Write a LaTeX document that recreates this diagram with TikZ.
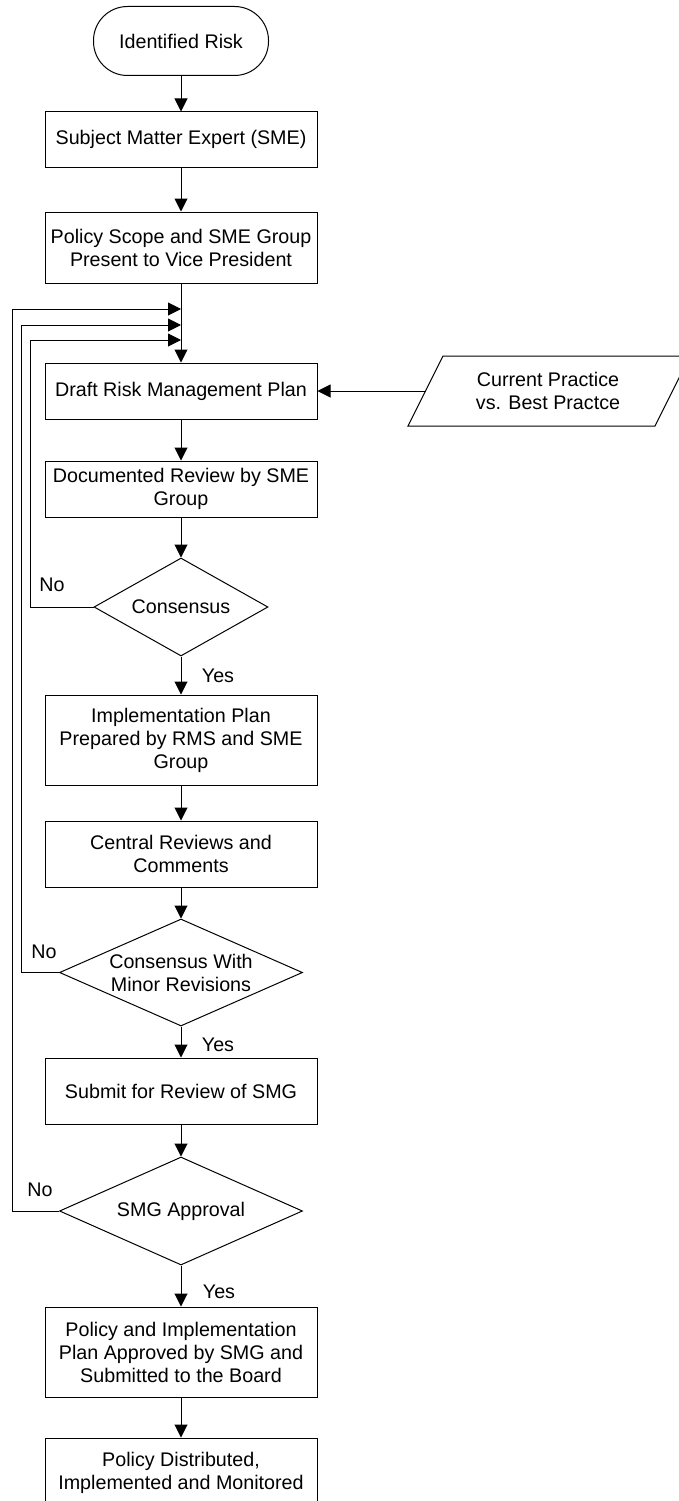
\documentclass[tikz,border=0pt]{standalone}
\usepackage{fontspec}
\setmainfont{Liberation Sans}
\usetikzlibrary{arrows.meta,shapes.geometric}
\begin{document}
\begin{tikzpicture}[x=1pt,y=-1pt,
  every node/.style={font=\fontsize{19.7}{23}\selectfont},
  box/.style={draw, line width=1pt, rectangle, minimum width=272pt, align=center, inner sep=0pt},
  term/.style={draw, line width=1pt, rectangle, rounded corners=34pt, minimum width=175pt, minimum height=69pt},
  dia/.style={draw, line width=1pt, diamond, inner sep=0pt},
  outline/.style={draw, line width=1pt, line join=miter},
  flow/.style={line width=1pt, -{Triangle[length=13pt,width=13pt]}},
  tag/.style={inner sep=0pt, align=center}
]
\useasboundingbox (0,0) rectangle (679,1501);

% main column
\node[term] (start) at (181,41) {Identified Risk};
\node[box, minimum height=55pt] (sme) at (181,139.5) {Subject Matter Expert (SME)};
\node[box, minimum height=71pt] (scope) at (181,247.5) {Policy Scope and SME Group\\Present to Vice President};
\node[box, minimum height=56pt] (draft) at (181,391) {Draft Risk Management Plan};
\node[box, minimum height=56pt] (review) at (181,489) {Documented Review by SME\\Group};
\node[dia, minimum width=174pt, minimum height=98pt] (cons) at (181,607) {};
\node[tag] (consT) at (cons) {Consensus};
\node[box, minimum height=90pt] (impl) at (181,740) {Implementation Plan\\Prepared by RMS and SME\\Group};
\node[box, minimum height=66pt] (central) at (181,854) {Central Reviews and\\Comments};
\node[dia, minimum width=243pt, minimum height=107pt] (minor) at (181,972.5) {};
\node[tag] (minorT) at (minor) {Consensus With\\Minor Revisions};
\node[box, minimum height=66pt] (submit) at (181,1091) {Submit for Review of SMG};
\node[dia, minimum width=243pt, minimum height=108pt] (smg) at (181,1211) {};
\node[tag] (smgT) at (smg) {SMG Approval};
\node[box, minimum height=90pt] (approved) at (181,1352) {Policy and Implementation\\Plan Approved by SMG and\\Submitted to the Board};
\node[box, minimum height=70pt] (final) at (181,1473) {Policy Distributed,\\Implemented and Monitored};

% input from the side: a slanted data shape running off the right edge
\draw[outline] (443,356) -- (690,356) -- (655,426) -- (408,426) -- cycle;
\node[tag] (practice) at (548,391) {Current Practice\\vs. Best Practce};
\coordinate (practiceIn) at (425.5,391);

% merge points for the return loops
\coordinate (m1) at (181,309);
\coordinate (m2) at (181,325);
\coordinate (m3) at (181,340);

% forward flow
\draw[flow] (start) -- (sme);
\draw[flow] (sme) -- (scope);
\draw[flow] (scope) -- (draft);
\draw[flow] (practiceIn) -- (draft.east);
\draw[flow] (draft) -- (review);
\draw[flow] (review) -- (cons.north);
\draw[flow] (cons.south) -- (impl);
\draw[flow] (impl) -- (central);
\draw[flow] (central) -- (minor.north);
\draw[flow] (minor.south) -- (submit);
\draw[flow] (submit) -- (smg.north);
\draw[flow] (smg.south) -- (approved);
\draw[flow] (approved) -- (final);

% return loops
\draw[flow] (cons.west) -- ++(-63,0) |- (m3);
\draw[flow] (minor.west) -- ++(-38,0) |- (m2);
\draw[flow] (smg.west) -- ++(-47,0) |- (m1);

% branch labels
\node[tag] (no1) at (52,585) {No};
\node[tag] (no2) at (44,952) {No};
\node[tag] (no3) at (40,1190) {No};
\node[tag] (yes1) at (218,676) {Yes};
\node[tag] (yes2) at (218,1045) {Yes};
\node[tag] (yes3) at (219,1292) {Yes};
\end{tikzpicture}
\end{document}
